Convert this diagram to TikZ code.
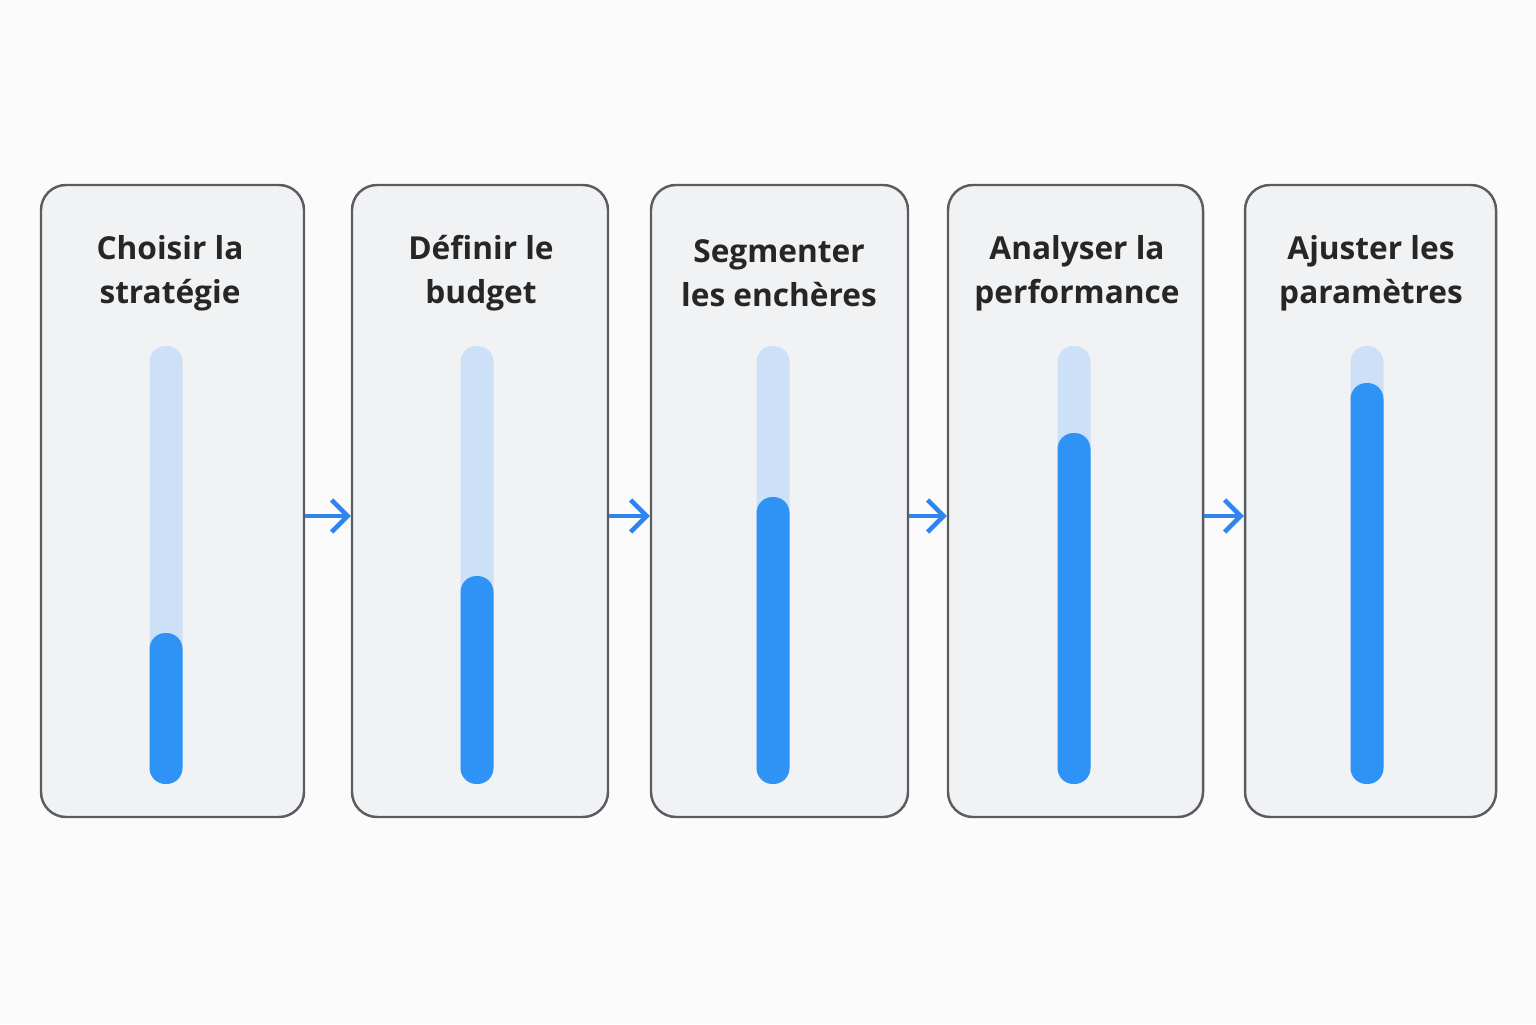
\documentclass[tikz,border=0pt]{standalone}
\usepackage{fontspec}
\setmainfont{Open Sans}
\usetikzlibrary{arrows.meta}
\definecolor{panelBG}{HTML}{F1F2F4}
\definecolor{panelLN}{HTML}{5A5C60}
\definecolor{trackC}{HTML}{CCE0F8}
\definecolor{barC}{HTML}{2F93F5}
\definecolor{arrC}{HTML}{2F84EE}
\begin{document}
\begin{tikzpicture}[stepND/.style={rectangle,
                                   rounded corners=2.5mm,
                                   draw=panelLN,
                                   line width=0.7pt,
                                   fill=panelBG,
                                   minimum height=6.32cm},
                    titleND/.style={align=center,
                                    font=\fontsize{9}{12.5}\selectfont\bfseries,
                                    text=black!85},
                    track/.style={fill=trackC, rounded corners=1.6mm},
                    level/.style={fill=barC, rounded corners=1.6mm},
                    flow/.style={draw=arrC, line width=1.3pt, -{Straight Barb[length=1.6mm,width=3.2mm]}}]
    \fill[white!97!gray] (0,0) rectangle (15.36,10.24);
    \node[stepND, minimum width=2.63cm](S1) at (1.725,5.23)  {};
    \node[stepND, minimum width=2.56cm](S2) at (4.80,5.23)   {};
    \node[stepND, minimum width=2.57cm](S3) at (7.795,5.23)  {};
    \node[stepND, minimum width=2.55cm](S4) at (10.755,5.23) {};
    \node[stepND, minimum width=2.51cm](S5) at (13.705,5.23) {};
    \node[titleND](T1) at (1.70,7.51)  {Choisir la\\stratégie};
    \node[titleND](T2) at (4.81,7.51)  {Définir le\\budget};
    \node[titleND](T3) at (7.79,7.51)  {Segmenter\\les enchères};
    \node[titleND](T4) at (10.77,7.51) {Analyser la\\performance};
    \node[titleND](T5) at (13.71,7.51) {Ajuster les\\paramètres};
    % bars
    \fill[track] (1.495,2.40) rectangle (1.825,6.78);
    \fill[level] (1.495,2.40) rectangle (1.825,3.91);
    \fill[track] (4.605,2.40) rectangle (4.935,6.78);
    \fill[level] (4.605,2.40) rectangle (4.935,4.48);
    \fill[track] (7.565,2.40) rectangle (7.895,6.78);
    \fill[level] (7.565,2.40) rectangle (7.895,5.27);
    \fill[track] (10.575,2.40) rectangle (10.905,6.78);
    \fill[level] (10.575,2.40) rectangle (10.905,5.91);
    \fill[track] (13.505,2.40) rectangle (13.835,6.78);
    \fill[level] (13.505,2.40) rectangle (13.835,6.41);
    % connectors
    \draw[flow] ([yshift=-1.5mm]S1.east) -- ([yshift=-1.5mm]S2.west);
    \draw[flow] ([yshift=-1.5mm]S2.east) -- ([yshift=-1.5mm]S3.west);
    \draw[flow] ([yshift=-1.5mm]S3.east) -- ([yshift=-1.5mm]S4.west);
    \draw[flow] ([yshift=-1.5mm]S4.east) -- ([yshift=-1.5mm]S5.west);
\end{tikzpicture}
\end{document}
